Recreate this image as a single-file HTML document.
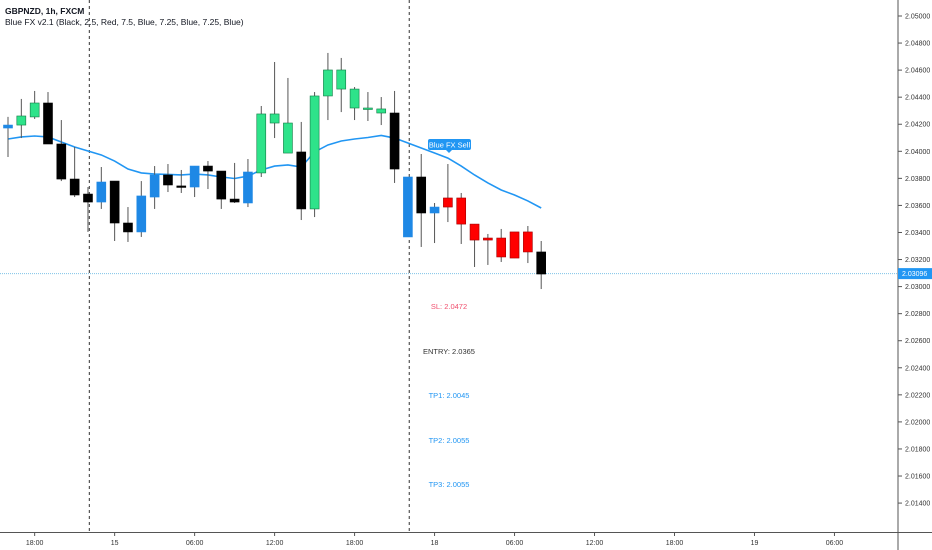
<!DOCTYPE html>
<html><head><meta charset="utf-8"><style>
body{margin:0;background:#fff;}
svg{display:block;font-family:"Liberation Sans",sans-serif;}
</style></head><body>
<svg id="chart" width="932" height="550" viewBox="0 0 932 550">
<rect x="0" y="0" width="932" height="550" fill="#ffffff"/>
<g id="grid"></g>
<g id="ma"></g>
<g id="candles"></g>
<g id="yaxis"></g>
<g id="xaxis"></g>
<text x="5" y="14" font-size="8.5" font-weight="bold" fill="#131722">GBPNZD, 1h, FXCM</text>
<text x="5" y="25" font-size="8.5" fill="#131722">Blue FX v2.1 (Black, 2.5, Red, 7.5, Blue, 7.25, Blue, 7.25, Blue)</text>
<g id="signal">
<rect x="428" y="139" width="43" height="11" rx="2" fill="#2196f3"/>
<path d="M446 150 L449 153 L452 150 Z" fill="#2196f3"/>
<text x="449.5" y="147.5" font-size="7.5" fill="#fff" text-anchor="middle">Blue FX Sell</text>
</g>
<g font-size="7.5" text-anchor="middle">
<text x="449" y="309" fill="#f0506e">SL: 2.0472</text>
<text x="449" y="354" fill="#333">ENTRY: 2.0365</text>
<text x="449" y="398" fill="#2196f3">TP1: 2.0045</text>
<text x="449" y="443" fill="#2196f3">TP2: 2.0055</text>
<text x="449" y="487" fill="#2196f3">TP3: 2.0055</text>
</g>
</svg>
<script>
const opens=[2.04172,2.04194,2.04254,2.04357,2.04054,2.03795,2.03684,2.03625,2.03780,2.03470,2.03404,2.03662,2.03825,2.03744,2.03736,2.03891,2.03854,2.03647,2.03618,2.03840,2.04209,2.03987,2.03995,2.03574,2.04409,2.04460,2.04320,2.04320,2.04283,2.04283,2.03367,2.03810,2.03544,2.03655,2.03655,2.03462,2.03359,2.03359,2.03404,2.03404,2.03256];
const highs=[2.04254,2.04387,2.04446,2.04438,2.04231,2.04032,2.03736,2.03884,2.03780,2.03588,2.03780,2.03891,2.03906,2.03862,2.03891,2.03928,2.03854,2.03914,2.03943,2.04335,2.04660,2.04542,2.04217,2.04438,2.04727,2.04690,2.04475,2.04438,2.04401,2.04446,2.03810,2.03980,2.03618,2.03906,2.03692,2.03462,2.03389,2.03426,2.03404,2.03448,2.03337];
const lows=[2.03958,2.04098,2.04239,2.04054,2.03780,2.03662,2.03404,2.03574,2.03337,2.03330,2.03367,2.03574,2.03699,2.03692,2.03662,2.03721,2.03574,2.03618,2.03588,2.03810,2.04098,2.03987,2.03492,2.03514,2.04231,2.04290,2.04231,2.04224,2.04194,2.03766,2.03367,2.03293,2.03322,2.03477,2.03315,2.03145,2.03160,2.03182,2.03211,2.03174,2.02982];
const closes=[2.04194,2.04261,2.04357,2.04054,2.03795,2.03677,2.03625,2.03773,2.03470,2.03404,2.03670,2.03825,2.03751,2.03736,2.03891,2.03854,2.03647,2.03625,2.03847,2.04276,2.04276,2.04209,2.03574,2.04409,2.04601,2.04601,2.04460,2.04313,2.04313,2.03869,2.03810,2.03544,2.03588,2.03588,2.03462,2.03344,2.03344,2.03219,2.03211,2.03256,2.03093];
const kinds=["b","g","g","k","k","k","k","b","k","k","b","b","k","k","b","k","k","k","b","g","g","g","k","g","g","g","g","g","g","k","b","k","b","r","r","r","r","r","r","r","k"];
const maValues=[2.04091,2.04106,2.04113,2.04106,2.04069,2.04032,2.04002,2.03973,2.03928,2.03869,2.03840,2.03832,2.03829,2.03825,2.03832,2.03825,2.03810,2.03799,2.03817,2.03862,2.03891,2.03899,2.03884,2.03995,2.04047,2.04076,2.04091,2.04102,2.04117,2.04098,2.04061,2.04024,2.03987,2.03950,2.03891,2.03825,2.03766,2.03714,2.03677,2.03633,2.03581];
const priceTicks=[2.05,2.048,2.046,2.044,2.042,2.04,2.038,2.036,2.034,2.032,2.03,2.028,2.026,2.024,2.022,2.02,2.018,2.016,2.014];
const timeLabels=["18:00","15","06:00","12:00","18:00","18","06:00","12:00","18:00","19","06:00"];
const timeIndex=[2,8,14,20,26,32,38,44,50,56,62];
const sessionBreaks=[6.1,30.1];
const lastPrice=2.03096;

const NS="http://www.w3.org/2000/svg";
function y(p){return 16+(2.05-p)/0.002*27.06;}
function x(i){return 8+i*13.33;}
function mk(tag,attrs,parent){const e=document.createElementNS(NS,tag);for(const k in attrs)e.setAttribute(k,attrs[k]);parent.appendChild(e);return e;}
const colors={g:["#2ee38a","#137a45"],k:["#000000","#000000"],b:["#1e88e5","#1e88e5"],r:["#ff0000","#a00000"]};

const grid=document.getElementById('grid');
sessionBreaks.forEach(s=>{const l=mk('line',{x1:x(s),x2:x(s),y1:0,y2:532,stroke:'#333','stroke-width':1,'stroke-dasharray':'3,3'},grid);

});
const pl=mk('line',{x1:0,x2:898,y1:y(lastPrice),y2:y(lastPrice),stroke:'#7fc3e8','stroke-width':1,'stroke-dasharray':'1,1'},grid);



const ma=document.getElementById('ma');
const mp=mk('polyline',{points:maValues.map((v,i)=>x(i)+','+y(v)).join(' '),fill:'none',stroke:'#2196f3','stroke-width':1.6},ma);



const cg=document.getElementById('candles');
opens.forEach((o,i)=>{const c=closes[i],cx=x(i),col=colors[kinds[i]];
const g=mk('g',{},cg);


mk('line',{x1:cx,x2:cx,y1:y(highs[i]),y2:y(lows[i]),stroke:'#555','stroke-width':1},g);
const top=y(Math.max(o,c)),h=Math.max(1.5,y(Math.min(o,c))-top);
mk('rect',{x:cx-4.5,y:top,width:9,height:h,fill:col[0],stroke:col[1],'stroke-width':0.6},g);});

const ya=document.getElementById('yaxis');
mk('line',{x1:898,x2:898,y1:0,y2:550,stroke:'#555','stroke-width':1},ya);
priceTicks.forEach(p=>{mk('line',{x1:898,x2:902,y1:y(p),y2:y(p),stroke:'#555'},ya);
const t=mk('text',{x:905,y:y(p)+2.5,'font-size':7,fill:'#333'},ya);t.textContent=p.toFixed(5);

});
const pr=mk('rect',{x:898,y:y(lastPrice)-5.5,width:34,height:11,fill:'#2196f3'},ya);


const pt=mk('text',{x:902,y:y(lastPrice)+2.5,'font-size':7,fill:'#fff'},ya);pt.textContent=lastPrice.toFixed(5);



const xa=document.getElementById('xaxis');
mk('line',{x1:0,x2:932,y1:532.5,y2:532.5,stroke:'#555','stroke-width':1},xa);
timeLabels.forEach((lab,k)=>{const tx=x(timeIndex[k]);
mk('line',{x1:tx,x2:tx,y1:532,y2:536,stroke:'#555'},xa);
const t=mk('text',{x:tx,y:545,'font-size':7,fill:'#333','text-anchor':'middle'},xa);t.textContent=lab;

});
</script>
</body></html>
